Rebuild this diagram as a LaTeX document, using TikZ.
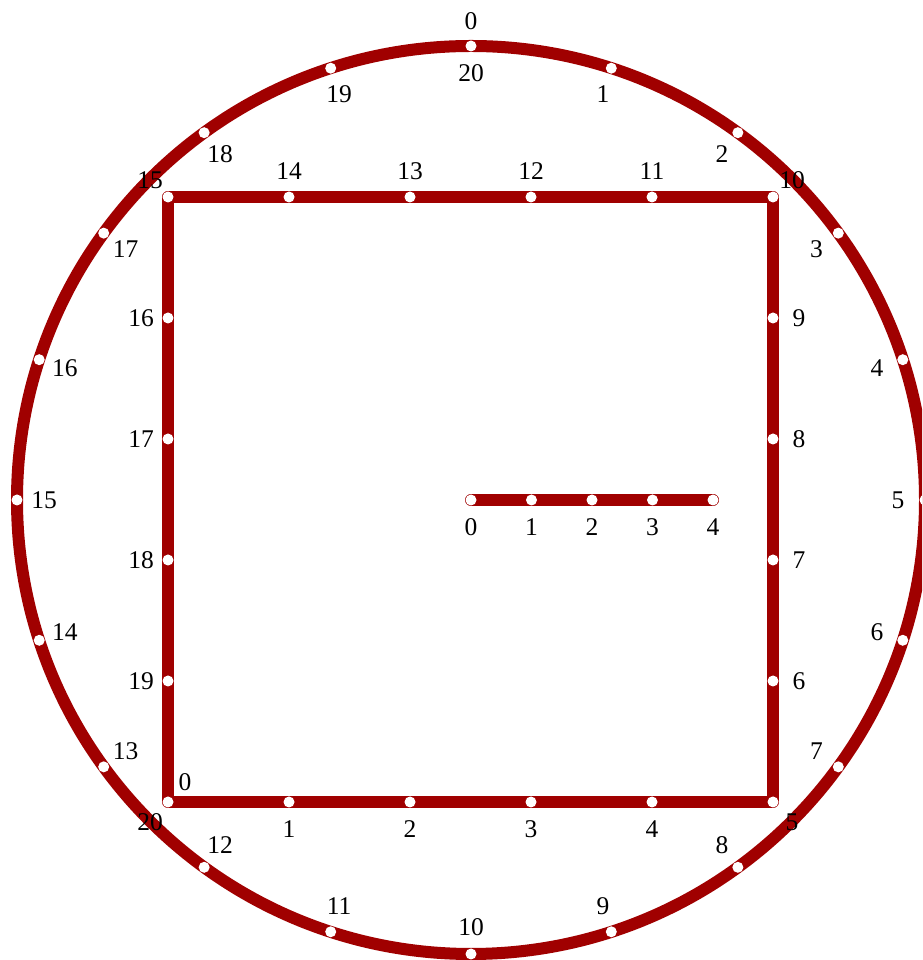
\documentclass[tikz,border=0pt]{standalone}
\usepackage{fontspec}
\setmainfont{Liberation Serif}
\usetikzlibrary{calc}
\definecolor{pathred}{RGB}{160,0,0}
\begin{document}
\begin{tikzpicture}[x=1pt,y=1pt,
  track/.style={draw=pathred,line width=12pt,line join=round,line cap=round},
  dot/.style={circle,fill=white,draw=none,inner sep=0pt,minimum size=11pt},
  lbl/.style={inner sep=0pt,font=\fontsize{25.5}{29}\selectfont}]
\useasboundingbox (0,0) rectangle (922,960);
\clip (0,0) rectangle (922,960);
% ---------- circle ----------
\coordinate (C) at (471,460);
\foreach \k in {0,...,20}{
  \coordinate (c\k) at ($(C)+({90-18*\k}:454)$);
}
\draw[track] (C) circle[radius=454];
% ---------- square ----------
\foreach \k in {0,...,5}{
  \coordinate (s\k) at (168+121*\k,158);
}
\foreach \k in {6,...,10}{
  \coordinate (s\k) at (773,158+121*\k-605);
}
\foreach \k in {11,...,15}{
  \coordinate (s\k) at (773-121*\k+1210,763);
}
\foreach \k in {16,...,20}{
  \coordinate (s\k) at (168,763-121*\k+1815);
}
\draw[track] (s0) -- (s5) -- (s10) -- (s15) -- cycle;
% ---------- line ----------
\foreach \k in {0,...,4}{
  \coordinate (l\k) at (471+60.5*\k,460);
}
\draw[track] (l0) -- (l4);
% ---------- dots ----------
\foreach \k in {0,...,19}{ \node[dot] (cd\k) at (c\k) {}; }
\foreach \k in {0,...,19}{ \node[dot] (sd\k) at (s\k) {}; }
\foreach \k in {0,...,4}{ \node[dot] (ld\k) at (l\k) {}; }
% ---------- circle labels ----------
\node[lbl] (cl0) at ($(C)+(90:479)$) {0};
\foreach \k in {1,...,20}{
  \node[lbl] (cl\k) at ($(C)+({90-18*\k}:427)$) {\k};
}
% ---------- square labels ----------
\node[lbl] (sl0) at ($(s0)+(17,20)$) {0};
\foreach \k in {1,...,4}{ \node[lbl] (sl\k) at ($(s\k)+(0,-27)$) {\k}; }
\node[lbl] (sl5) at ($(s5)+(19,-20)$) {5};
\foreach \k in {6,...,9}{ \node[lbl] (sl\k) at ($(s\k)+(26,0)$) {\k}; }
\node[lbl] (sl10) at ($(s10)+(19,17)$) {10};
\foreach \k in {11,...,14}{ \node[lbl] (sl\k) at ($(s\k)+(0,26)$) {\k}; }
\node[lbl] (sl15) at ($(s15)+(-18,17)$) {15};
\foreach \k in {16,...,19}{ \node[lbl] (sl\k) at ($(s\k)+(-27,0)$) {\k}; }
\node[lbl] (sl20) at ($(s20)+(-18,-20)$) {20};
% ---------- line labels ----------
\foreach \k in {0,...,4}{ \node[lbl] (ll\k) at ($(l\k)+(0,-27)$) {\k}; }
\end{tikzpicture}
\end{document}
